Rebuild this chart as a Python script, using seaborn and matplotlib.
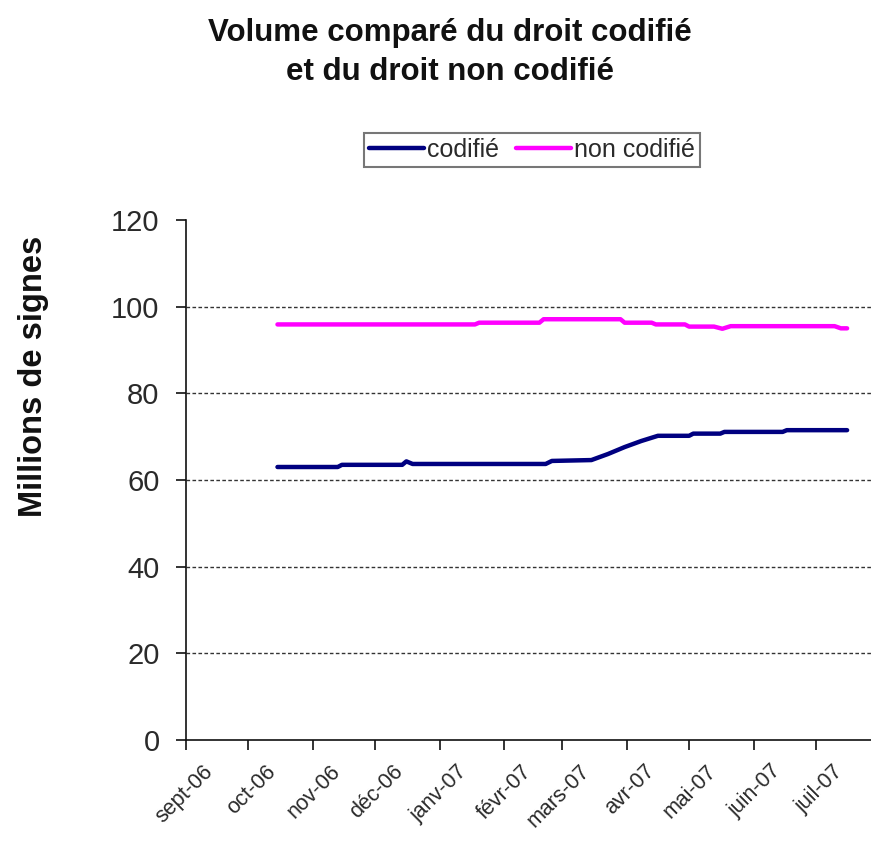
import matplotlib
matplotlib.use("Agg")
import matplotlib.pyplot as plt
from matplotlib.transforms import ScaledTranslation
import pandas as pd
import seaborn as sns

# Series: volume in millions of characters, sampled at the dates where the value changes
codifie_dates = ["2006-10-15", "2006-11-13", "2006-11-15", "2006-12-14", "2006-12-16",
                 "2006-12-19", "2007-02-21", "2007-02-24", "2007-03-15", "2007-03-23",
                 "2007-03-31", "2007-04-08", "2007-04-16", "2007-05-01", "2007-05-03",
                 "2007-05-16", "2007-05-18", "2007-06-15", "2007-06-17", "2007-07-16"]
codifie_values = [63.0, 63.0, 63.5, 63.5, 64.3,
                  63.7, 63.7, 64.4, 64.6, 66.0,
                  67.6, 69.0, 70.2, 70.2, 70.7,
                  70.7, 71.1, 71.1, 71.5, 71.5]

non_codifie_dates = ["2006-10-15", "2007-01-18", "2007-01-20", "2007-02-18", "2007-02-20",
                     "2007-03-29", "2007-03-31", "2007-04-13", "2007-04-15", "2007-04-29",
                     "2007-05-01", "2007-05-13", "2007-05-17", "2007-05-21", "2007-07-10",
                     "2007-07-13", "2007-07-16"]
non_codifie_values = [95.9, 95.9, 96.3, 96.3, 97.1,
                      97.1, 96.3, 96.3, 95.9, 95.9,
                      95.4, 95.4, 94.9, 95.5, 95.5,
                      95.0, 95.0]

series_names = ["codifié", "non codifié"]
series_colors = ["#000080", "#FF00FF"]

month_starts = ["2006-09-01", "2006-10-01", "2006-11-01", "2006-12-01", "2007-01-01",
                "2007-02-01", "2007-03-01", "2007-04-01", "2007-05-01", "2007-06-01",
                "2007-07-01"]
month_labels = ["sept-06", "oct-06", "nov-06", "déc-06", "janv-07", "févr-07",
                "mars-07", "avr-07", "mai-07", "juin-07", "juil-07"]
y_ticks = [0, 20, 40, 60, 80, 100, 120]

title_text = "Volume comparé du droit codifié\net du droit non codifié"
ylabel_text = "Millions de signes"

df = pd.concat([
    pd.DataFrame({"date": pd.to_datetime(codifie_dates), "value": codifie_values,
                  "serie": series_names[0]}),
    pd.DataFrame({"date": pd.to_datetime(non_codifie_dates), "value": non_codifie_values,
                  "serie": series_names[1]}),
], ignore_index=True)

sns.set_theme(style="white")
plt.rcParams["font.family"] = ["Liberation Sans", "DejaVu Sans"]

fig = plt.figure(figsize=(8.71, 8.41), dpi=100)
ax = fig.add_axes([186 / 871, 1 - 740 / 841, (871 - 186) / 871, (740 - 220) / 841])

sns.lineplot(data=df, x="date", y="value", hue="serie",
             palette=dict(zip(series_names, series_colors)),
             estimator=None, sort=False, linewidth=3.2, legend=False, ax=ax)
for line in ax.lines:
    line.set_solid_capstyle("round")
    line.set_solid_joinstyle("round")

ax.set_xlim(pd.Timestamp("2006-09-01"), pd.Timestamp("2007-07-27 12:00"))
ax.set_ylim(0, 120)
ax.set_yticks(y_ticks)
ax.set_xticks(pd.to_datetime(month_starts))
ax.set_xticklabels(month_labels)
ax.set_xlabel("")
ax.set_ylabel("")

# Dashed horizontal gridlines, skipping the ones on the axis and at the top
ax.grid(axis="y", color="#333333", linestyle=(0, (2.6, 1.7)), linewidth=1.0)
ax.grid(axis="x", visible=False)
gl = ax.yaxis.get_gridlines()
gl[0].set_visible(False)
gl[-1].set_visible(False)

for side in ("top", "right"):
    ax.spines[side].set_visible(False)
for side in ("left", "bottom"):
    ax.spines[side].set_color("#111111")
    ax.spines[side].set_linewidth(1.2)

ax.tick_params(axis="y", direction="out", length=7, width=1.2, color="#111111",
               labelsize=21, labelcolor="#2a2a2a", pad=12, left=True)
ax.tick_params(axis="x", direction="out", length=7, width=1.2, color="#111111",
               labelsize=15.5, labelcolor="#2a2a2a", pad=8, bottom=True)

shift = ScaledTranslation(17 / 100, 0, fig.dpi_scale_trans)
for lab in ax.get_xticklabels():
    lab.set_rotation(45)
    lab.set_ha("right")
    lab.set_va("top")
    lab.set_rotation_mode("anchor")
    lab.set_transform(lab.get_transform() + shift)

fig.text(0.517, 0.979, title_text, ha="center", va="top", fontsize=22.5,
         fontweight="bold", color="#111111", linespacing=1.4)
fig.text(0.039, 0.553, ylabel_text, ha="center", va="center", rotation=90,
         fontsize=23.5, fontweight="bold", color="#111111")

leg = fig.legend(handles=ax.lines[:2], labels=series_names, loc="center",
                 bbox_to_anchor=(0.611, 0.822), ncol=2, frameon=True, fancybox=False,
                 fontsize=18, handlelength=2.2, handletextpad=0.1, columnspacing=0.7,
                 borderpad=0.2, labelcolor="#2a2a2a")
leg.get_frame().set_edgecolor("#555555")
leg.get_frame().set_linewidth(1.5)

fig.savefig("out.png", dpi=100)
